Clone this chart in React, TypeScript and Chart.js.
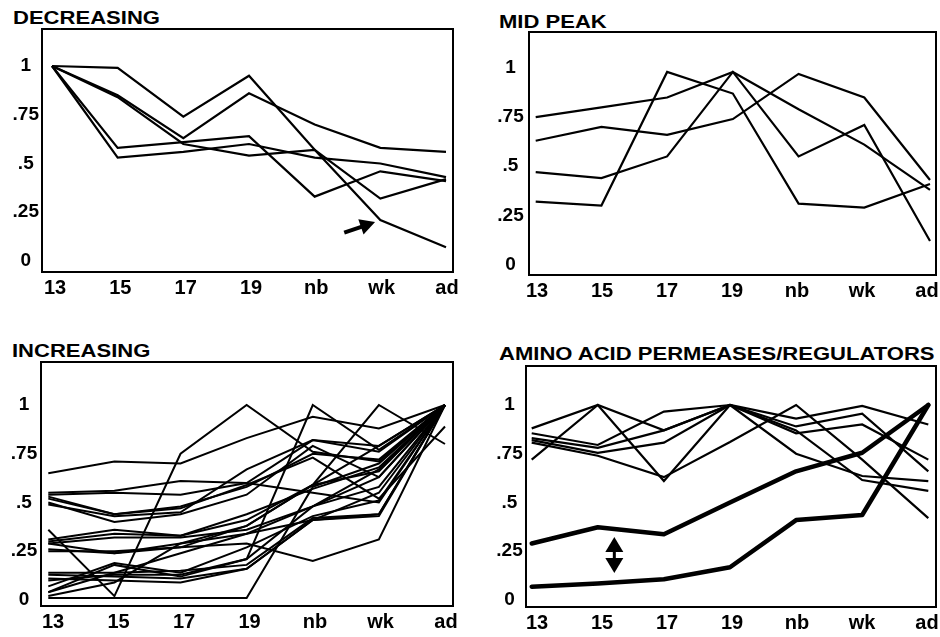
import React, { useEffect, useRef } from "react";
import { Chart, registerables } from "chart.js";

Chart.register(...registerables);

// ---------- DATA ----------
const STAGES = ["13", "15", "17", "19", "nb", "wk", "ad"];
const Y_TICK_VALUES = [0, 0.25, 0.5, 0.75, 1];
const Y_TICK_LABELS = ["0", ".25", ".5", ".75", "1"];

const TITLE_DECREASING = "DECREASING";
const TITLE_MID_PEAK = "MID PEAK";
const TITLE_INCREASING = "INCREASING";
const TITLE_AMINO = "AMINO ACID PERMEASES/REGULATORS";

const DECREASING = [
  [1.0, 0.99, 0.74, 0.95, 0.57, 0.21, 0.07],
  [1.0, 0.85, 0.63, 0.86, 0.7, 0.58, 0.56],
  [1.0, 0.58, 0.61, 0.64, 0.33, 0.46, 0.41],
  [1.0, 0.84, 0.6, 0.54, 0.57, 0.32, 0.42],
  [1.0, 0.53, 0.56, 0.6, 0.53, 0.5, 0.43],
];

const MID_PEAK = [
  [0.75, 0.8, 0.85, 0.98, 0.79, 0.61, 0.38],
  [0.63, 0.7, 0.66, 0.74, 0.97, 0.85, 0.43],
  [0.47, 0.44, 0.55, 0.98, 0.55, 0.71, 0.12],
  [0.32, 0.3, 0.98, 0.87, 0.31, 0.29, 0.41],
];

const INCREASING = [
  [0.65, 0.71, 0.7, 0.83, 0.94, 0.88, 1.0],
  [0.36, 0.02, 0.75, 1.0, 0.76, 0.71, 1.0],
  [0.01, 0.01, 0.01, 0.01, 0.58, 0.7, 1.0],
  [0.04, 0.18, 0.12, 0.21, 1.0, 0.77, 1.0],
  [0.3, 0.34, 0.33, 0.41, 0.59, 1.0, 0.8],
  [0.29, 0.24, 0.27, 0.29, 0.2, 0.31, 1.0],
  [0.53, 0.44, 0.47, 0.59, 0.73, 0.52, 0.89],
  [0.55, 0.56, 0.61, 0.6, 0.55, 0.5, 1.0],
  [0.54, 0.55, 0.54, 0.6, 0.82, 0.76, 1.0],
  [0.52, 0.44, 0.48, 0.58, 0.75, 0.72, 1.0],
  [0.5, 0.4, 0.44, 0.54, 0.79, 0.63, 1.0],
  [0.49, 0.43, 0.45, 0.67, 0.82, 0.79, 1.0],
  [0.31, 0.36, 0.33, 0.44, 0.57, 0.68, 1.0],
  [0.29, 0.32, 0.32, 0.36, 0.48, 0.67, 1.0],
  [0.26, 0.24, 0.29, 0.34, 0.48, 0.63, 1.0],
  [0.25, 0.25, 0.27, 0.38, 0.59, 0.79, 1.0],
  [0.13, 0.12, 0.11, 0.16, 0.41, 0.43, 1.0],
  [0.11, 0.1, 0.09, 0.16, 0.41, 0.44, 1.0],
  [0.1, 0.13, 0.13, 0.21, 0.48, 0.58, 1.0],
  [0.07, 0.19, 0.14, 0.27, 0.43, 0.51, 1.0],
  [0.04, 0.14, 0.24, 0.34, 0.41, 0.55, 1.0],
  [0.02, 0.09, 0.29, 0.38, 0.59, 0.66, 1.0],
  [0.14, 0.14, 0.15, 0.18, 0.42, 0.44, 1.0],
];

const AMINO_THIN = [
  [0.88, 1.0, 0.87, 1.0, 0.93, 0.995, 0.9],
  [0.72, 1.0, 0.61, 1.0, 0.89, 0.955, 0.66],
  [0.855, 0.795, 0.966, 1.0, 0.855, 0.9, 0.72],
  [0.83, 0.78, 0.87, 1.0, 0.75, 0.636, 0.61],
  [0.807, 0.74, 0.63, 0.81, 1.0, 0.72, 0.42],
  [0.82, 0.755, 0.807, 1.0, 0.87, 0.615, 0.56],
];
const AMINO_THICK = [
  [0.29, 0.373, 0.337, 0.5, 0.66, 0.755, 1.0],
  [0.068, 0.085, 0.106, 0.168, 0.41, 0.436, 1.0],
];

// annotation arrows, in data units (x = stage index, y = value)
const DEC_ARROW = { x0: 4.45, y0: 0.145, x1: 4.92, y1: 0.2 };
const AMINO_DOUBLE_ARROW = { x: 1.25, yTop: 0.323, yBottom: 0.138 };

// ---------- LAYOUT / STYLE ----------
const AXIS_W = 40;
const AXIS_H = 34;
const PAD_T = 20;
const PAD_R = 14;
const FONT_FAMILY = "'Liberation Sans', Arial, Helvetica, sans-serif";

type Geo = {
  L: number; T: number; R: number; B: number;
  y0: number; y1: number; xa: number; xb: number;
  la: number; lb: number; labPad: number;
};

function framePlugin() {
  return {
    id: "frameBox",
    afterDatasetsDraw(chart: any) {
      const { ctx, chartArea: a } = chart;
      ctx.save();
      ctx.strokeStyle = "#000";
      ctx.lineWidth = 2;
      ctx.strokeRect(a.left, a.top, a.right - a.left, a.bottom - a.top);
      ctx.restore();
    },
  };
}

function arrowPlugin(arrow: any, dbl: any) {
  return {
    id: "arrowMarks",
    afterDatasetsDraw(chart: any) {
      const { ctx } = chart;
      const xs = chart.scales.x;
      const ys = chart.scales.y;
      ctx.save();
      ctx.fillStyle = "#000";
      ctx.strokeStyle = "#000";
      if (arrow) {
        const px0 = xs.getPixelForValue(arrow.x0);
        const py0 = ys.getPixelForValue(arrow.y0);
        const px1 = xs.getPixelForValue(arrow.x1);
        const py1 = ys.getPixelForValue(arrow.y1);
        const ang = Math.atan2(py1 - py0, px1 - px0);
        const headL = 15;
        const headW = 8;
        const bx = px1 - headL * Math.cos(ang);
        const by = py1 - headL * Math.sin(ang);
        ctx.lineWidth = 4;
        ctx.beginPath();
        ctx.moveTo(px0, py0);
        ctx.lineTo(bx + 2 * Math.cos(ang), by + 2 * Math.sin(ang));
        ctx.stroke();
        ctx.beginPath();
        ctx.moveTo(px1, py1);
        ctx.lineTo(bx - headW * Math.sin(ang), by + headW * Math.cos(ang));
        ctx.lineTo(bx + headW * Math.sin(ang), by - headW * Math.cos(ang));
        ctx.closePath();
        ctx.fill();
      }
      if (dbl) {
        const cx = xs.getPixelForValue(dbl.x);
        const ty = ys.getPixelForValue(dbl.yTop);
        const by = ys.getPixelForValue(dbl.yBottom);
        const hw = 9;
        const hl = 15;
        ctx.beginPath();
        ctx.moveTo(cx, ty);
        ctx.lineTo(cx + hw, ty + hl);
        ctx.lineTo(cx - hw, ty + hl);
        ctx.closePath();
        ctx.fill();
        ctx.beginPath();
        ctx.moveTo(cx, by);
        ctx.lineTo(cx + hw, by - hl);
        ctx.lineTo(cx - hw, by - hl);
        ctx.closePath();
        ctx.fill();
        ctx.lineWidth = 3;
        ctx.beginPath();
        ctx.moveTo(cx, ty + hl - 1);
        ctx.lineTo(cx, by - hl + 1);
        ctx.stroke();
      }
      ctx.restore();
    },
  };
}

function Panel(props: { series: number[][]; widths: number[]; geo: Geo; arrow?: any; dbl?: any }) {
  const { series, widths, geo, arrow, dbl } = props;
  const ref = useRef<HTMLCanvasElement | null>(null);
  const cw = geo.R - geo.L + AXIS_W + PAD_R;
  const ch = geo.B - geo.T + PAD_T + AXIS_H;
  useEffect(() => {
    const { L, T, R, B, y0, y1, xa, xb, la, lb, labPad } = geo;
    const unitY = y0 - y1;
    const yMin = -(B - y0) / unitY;
    const yMax = 1 + (y1 - T) / unitY;
    const unitX = (xb - xa) / 6;
    const xMin = -(xa - L) / unitX;
    const xMax = 6 + (R - xb) / unitX;
    const unitL = (lb - la) / 6;
    const lMin = -(la - L) / unitL;
    const lMax = 6 + (R - lb) / unitL;
    const chart = new Chart(ref.current as HTMLCanvasElement, {
      type: "line",
      data: {
        datasets: series.map((s, i) => ({
          data: s.map((v, j) => ({ x: j, y: v })),
          borderColor: "#000",
          borderWidth: widths[i],
          borderJoinStyle: widths[i] > 3 ? "round" : "miter",
          borderCapStyle: widths[i] > 3 ? "round" : "butt",
          pointRadius: 0,
          fill: false,
          tension: 0,
        })),
      },
      options: {
        animation: false,
        responsive: false,
        maintainAspectRatio: false,
        events: [],
        layout: { padding: { left: 0, top: PAD_T, right: PAD_R, bottom: 0 } },
        plugins: { legend: { display: false }, tooltip: { enabled: false }, title: { display: false } },
        scales: {
          x: {
            type: "linear",
            display: false,
            min: xMin,
            max: xMax,
          },
          xl: {
            type: "linear",
            position: "bottom",
            min: lMin,
            max: lMax,
            grid: { display: false, drawTicks: false },
            border: { display: false },
            afterBuildTicks: (s: any) => {
              s.ticks = STAGES.map((_, i) => ({ value: i }));
            },
            afterFit: (s: any) => {
              s.height = AXIS_H;
            },
            ticks: {
              autoSkip: false,
              maxRotation: 0,
              padding: 4,
              color: "#000",
              font: { family: FONT_FAMILY, size: 20, weight: "bold" },
              callback: (v: any) => STAGES[Math.round(Number(v))],
            },
          },
          y: {
            type: "linear",
            min: yMin,
            max: yMax,
            grid: { display: false, drawTicks: false },
            border: { display: false },
            afterBuildTicks: (s: any) => {
              s.ticks = Y_TICK_VALUES.map((v) => ({ value: v }));
            },
            afterFit: (s: any) => {
              s.width = AXIS_W;
            },
            ticks: {
              crossAlign: "center",
              padding: labPad,
              color: "#000",
              font: { family: FONT_FAMILY, size: 19, weight: "bold" },
              callback: (v: any) => {
                const idx = Y_TICK_VALUES.findIndex((t) => Math.abs(t - Number(v)) < 1e-6);
                return idx >= 0 ? Y_TICK_LABELS[idx] : "";
              },
            },
          },
        },
      } as any,
      plugins: [framePlugin(), arrowPlugin(arrow, dbl)],
    });
    return () => chart.destroy();
  }, []);
  return (
    <canvas
      ref={ref}
      width={cw}
      height={ch}
      style={{ position: "absolute", left: geo.L - AXIS_W, top: geo.T - PAD_T, width: cw, height: ch }}
    />
  );
}

function Title(props: { text: string; x: number; capTop: number }) {
  return (
    <div
      style={{
        position: "absolute",
        left: props.x,
        top: props.capTop - 2.5,
        fontFamily: FONT_FAMILY,
        fontWeight: "bold",
        fontSize: 19,
        lineHeight: "19px",
        whiteSpace: "nowrap",
        color: "#000",
        transform: "scaleX(1.16)",
        transformOrigin: "left top",
      }}
    >
      {props.text}
    </div>
  );
}

const GEO_DEC: Geo = { L: 42, T: 29, R: 453, B: 272, y0: 261, y1: 66, xa: 52, xb: 446, la: 55, lb: 447, labPad: 3 };
const GEO_MID: Geo = { L: 529, T: 32, R: 936, B: 275, y0: 264.5, y1: 68, xa: 535.7, xb: 930, la: 537, lb: 927, labPad: 5.3 };
const GEO_INC: Geo = { L: 41, T: 362, R: 453, B: 606, y0: 600, y1: 405, xa: 48.3, xb: 445, la: 53, lb: 446, labPad: 3.8 };
const GEO_AA: Geo = { L: 526, T: 366, R: 936, B: 607, y0: 600, y1: 405, xa: 531.7, xb: 928.3, la: 537, lb: 927, labPad: 3.3 };

export default function App() {
  const aaSeries = [...AMINO_THIN, ...AMINO_THICK];
  const aaWidths = [...AMINO_THIN.map(() => 2.2), ...AMINO_THICK.map(() => 4.5)];
  return (
    <div
      style={{
        position: "fixed",
        left: 0,
        top: 0,
        width: 940,
        height: 637,
        overflow: "hidden",
        background: "#fff",
      }}
    >
      <Title text={TITLE_DECREASING} x={13} capTop={10} />
      <Title text={TITLE_MID_PEAK} x={499} capTop={14} />
      <Title text={TITLE_INCREASING} x={12} capTop={343} />
      <Title text={TITLE_AMINO} x={499} capTop={346} />
      <Panel series={DECREASING} widths={DECREASING.map(() => 2.2)} geo={GEO_DEC} arrow={DEC_ARROW} />
      <Panel series={MID_PEAK} widths={MID_PEAK.map(() => 2.2)} geo={GEO_MID} />
      <Panel series={INCREASING} widths={INCREASING.map(() => 2)} geo={GEO_INC} />
      <Panel series={aaSeries} widths={aaWidths} geo={GEO_AA} dbl={AMINO_DOUBLE_ARROW} />
    </div>
  );
}
